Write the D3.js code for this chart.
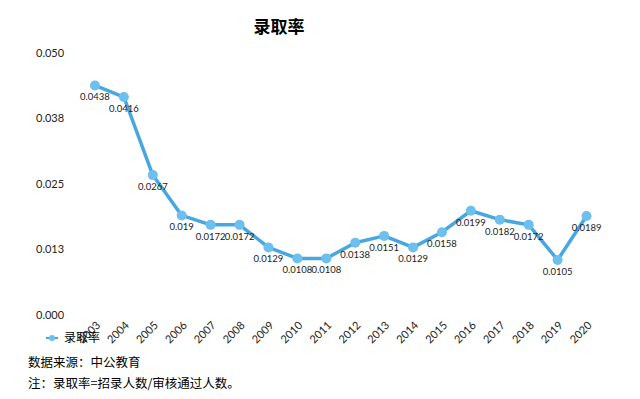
<!DOCTYPE html>
<html>
<head>
<meta charset="utf-8">
<script src="https://cdn.jsdelivr.net/npm/d3@7"></script>
<style>
  body { margin: 0; background: #fff; }
  text { font-family: "Noto Sans CJK SC", Lato, sans-serif; }
</style>
</head>
<body>
<svg id="chart" width="640" height="399"></svg>
<script>
var years = ["2003", "2004", "2005", "2006", "2007", "2008", "2009", "2010", "2011",
    "2012", "2013", "2014", "2015", "2016", "2017", "2018", "2019", "2020"];
var rates = [0.0438, 0.0416, 0.0267, 0.019, 0.0172, 0.0172, 0.0129, 0.0108, 0.0108,
    0.0138, 0.0151, 0.0129, 0.0158, 0.0199, 0.0182, 0.0172, 0.0105, 0.0189];
var yTicks = [0, 0.0125, 0.025, 0.0375, 0.05];
var yTickLabels = ["0.000", "0.013", "0.025", "0.038", "0.050"];

var svg = d3.select("#chart");

var x = d3.scaleBand().domain(years).range([80.5, 601]);
var y = d3.scaleLinear().domain([0, 0.05]).range([315, 53]);

function cx(d, i) { return x(years[i]) + x.bandwidth() / 2; }

svg.append("text")
    .attr("x", 279).attr("y", 33)
    .attr("text-anchor", "middle")
    .style("font-size", "17px").style("font-weight", "bold")
    .text("录取率");

// y axis labels (no line, no grid)
svg.append("g").selectAll("text")
    .data(yTicks)
    .enter().append("text")
    .attr("x", 36)
    .attr("y", function (d) { return y(d); })
    .attr("dy", "0.35em")
    .style("font-family", "Lato, sans-serif")
    .style("font-size", "11px")
    .style("fill", "#222")
    .text(function (d, i) { return yTickLabels[i]; });

// x axis labels rotated
svg.append("g").selectAll("text")
    .data(years)
    .enter().append("text")
    .attr("transform", function (d, i) {
        return "translate(" + (cx(d, i) + 6) + ",326) rotate(-45)";
    })
    .attr("text-anchor", "end")
    .style("font-family", "Lato, sans-serif")
    .style("font-size", "11px")
    .style("fill", "#222")
    .text(function (d) { return d; });

var line = d3.line()
    .x(function (d, i) { return cx(d, i); })
    .y(function (d) { return y(d); });

svg.append("path")
    .datum(rates)
    .attr("d", line)
    .attr("fill", "none")
    .attr("stroke", "#49a7e0")
    .attr("stroke-width", 3.5)
    .attr("stroke-linejoin", "round");

svg.append("g").selectAll("circle")
    .data(rates)
    .enter().append("circle")
    .attr("cx", cx)
    .attr("cy", function (d) { return y(d); })
    .attr("r", 5)
    .attr("fill", "#6dbfee");

svg.append("g").selectAll("text")
    .data(rates)
    .enter().append("text")
    .attr("x", cx)
    .attr("y", function (d) { return y(d) + 15; })
    .attr("text-anchor", "middle")
    .style("font-family", "Lato, sans-serif")
    .style("font-size", "9.5px")
    .style("fill", "#222")
    .text(function (d) { return String(d); });

// legend
var legend = svg.append("g").attr("transform", "translate(52,338)");
legend.append("line")
    .attr("x1", -6).attr("x2", 6)
    .attr("stroke", "#49a7e0").attr("stroke-width", 2);
legend.append("circle").attr("r", 3).attr("fill", "#6dbfee");
legend.append("text")
    .attr("x", 12).attr("dy", "0.35em")
    .style("font-size", "12px")
    .text("录取率");

svg.append("text")
    .attr("x", 28).attr("y", 367)
    .style("font-size", "12.5px")
    .text("数据来源：中公教育");
svg.append("text")
    .attr("x", 28).attr("y", 388)
    .style("font-size", "12.5px")
    .text("注：录取率=招录人数/审核通过人数。");
</script>
</body>
</html>
